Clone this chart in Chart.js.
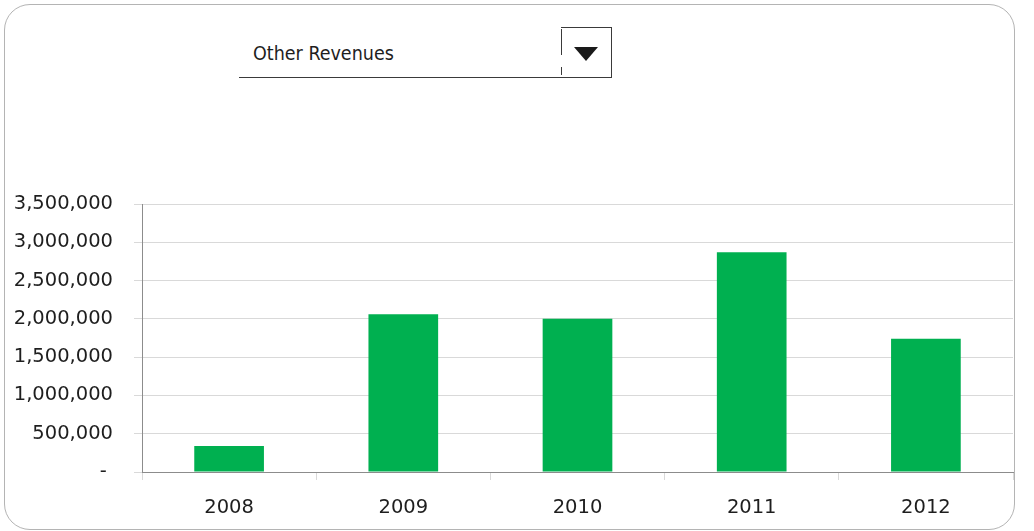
<!DOCTYPE html>
<html>
<head>
<meta charset="utf-8">
<script src="https://cdn.jsdelivr.net/npm/chart.js@4/dist/chart.umd.min.js"></script>
<style>
  html, body { margin: 0; padding: 0; background: #fff; }
  #page { position: relative; width: 1034px; height: 531px; overflow: hidden; background: #fff; }
  #frame { position: absolute; left: 4px; top: 4px; width: 1009px; height: 524px;
           border: 1px solid #b4b4b4; border-radius: 26px; }
  #chartBox { position: absolute; left: 0; top: 0; width: 1034px; height: 531px; }
  .ln { position: absolute; background: #3a3a3a; }
  #pick { position: absolute; left: 253px; top: 42px; font-family: "DejaVu Sans Condensed", "DejaVu Sans", sans-serif;
          font-size: 19.5px; color: #1e1e1e; line-height: 24px; white-space: nowrap; }
  #arrow { position: absolute; left: 574px; top: 47px; width: 0; height: 0;
           border-left: 12px solid transparent; border-right: 12px solid transparent; border-top: 14px solid #1a1a1a; }
</style>
</head>
<body>
<div id="page">
  <div id="frame"></div>
  <div id="pick">Other Revenues</div>
  <div class="ln" style="left:239px; top:77px; width:373px; height:1px;"></div>
  <div class="ln" style="left:561px; top:27px; width:51px; height:1px;"></div>
  <div class="ln" style="left:611px; top:27px; width:1px; height:50px;"></div>
  <div class="ln" style="left:561px; top:29px; width:1px; height:26px;"></div>
  <div class="ln" style="left:561px; top:67px; width:1px; height:8px;"></div>
  <div id="arrow"></div>
  <div id="chartBox"><canvas id="chart" width="1034" height="531"></canvas></div>
</div>
<script>
  // Data
  const years = ["2008", "2009", "2010", "2011", "2012"];
  const otherRevenues = [340000, 2060000, 2000000, 2870000, 1740000];
  const yMax = 3500000;
  const yStep = 500000;

  const axisFont = { family: "DejaVu Sans", size: 19.5 };

  const ctx = document.getElementById("chart").getContext("2d");
  new Chart(ctx, {
    type: "bar",
    data: {
      labels: years,
      datasets: [{
        label: "Other Revenues",
        data: otherRevenues,
        backgroundColor: "#00b050",
        borderWidth: 0,
        barPercentage: 0.4,
        categoryPercentage: 1.0
      }]
    },
    options: {
      responsive: false,
      animation: false,
      layout: { padding: { top: 204, right: 21, bottom: 0, left: 0 } },
      plugins: { legend: { display: false }, tooltip: { enabled: false } },
      scales: {
        x: {
          grid: { drawOnChartArea: false, tickLength: 8, color: "#d9d9d9" },
          border: { color: "#8c8c8c" },
          ticks: { font: axisFont, color: "#1e1e1e", padding: 16 },
          afterFit: function (s) { s.height = 59; }
        },
        y: {
          min: 0,
          max: yMax,
          grid: { tickLength: 8, color: "#d9d9d9" },
          border: { color: "#8c8c8c" },
          ticks: {
            stepSize: yStep,
            font: axisFont,
            color: "#1e1e1e",
            padding: 21,
            callback: function (v) { return v === 0 ? "- " : v.toLocaleString("en-US"); }
          },
          afterFit: function (s) { s.width = 142; }
        }
      }
    }
  });
</script>
</body>
</html>
